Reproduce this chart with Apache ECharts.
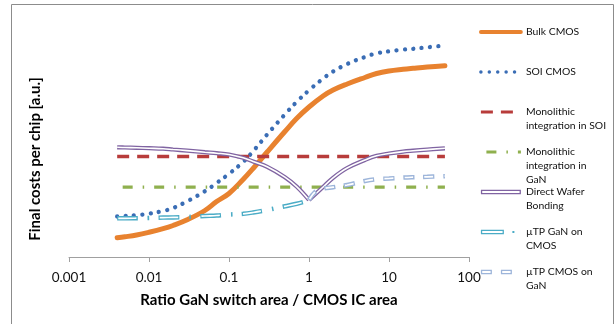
<!DOCTYPE html>
<html>
<head>
<meta charset="utf-8">
<script src="https://cdn.jsdelivr.net/npm/echarts@6/dist/echarts.min.js"></script>
<style>html,body{margin:0;padding:0;background:#fff;}#c{width:616px;height:324px;}</style>
</head>
<body>
<div id="c"></div>
<script>
// ---- data ----
const xTickLabels = ['0.001', '0.01', '0.1', '1', '10', '100'];
const xs = [0.004,0.005,0.007,0.01,0.015,0.02,0.03,0.05,0.07,0.1,0.15,0.2,0.3,0.5,0.7,1,1.5,2,3,5,7,10,15,20,30,50];
const bulkCmos = [19.2,20.2,22,24.7,28.3,31.5,37.2,46.5,55.5,63.5,77.5,88.5,105,125.5,138.5,150,161,167,173,179.5,183.5,186,187.7,188.7,190,191.3];
const soiCmos = [40.5,41,41.8,43.4,46,49,55.7,65.8,74,83.2,95,105.7,122.5,142.6,155,166.7,178.4,185.5,193,200,203.7,205.7,207.4,208.2,209.7,211.4];
const flatX = [0.004, 50];
const monoSoi = [100.5, 100.5];
const monoGan = [69.8, 69.8];
const dwbLeftX = [0.004,0.005,0.007,0.01,0.015,0.02,0.03,0.05,0.07,0.1,0.15,0.2,0.3,0.5,0.7,1];
const dwbLeft = [109.7,109.5,109.2,108.8,108.3,107.5,106.4,104.8,103.8,102.5,99.2,95.5,90.2,79.8,70.4,57];
const dwbRightX = [1,1.5,2,3,5,7,10,15,20,30,50];
const dwbRight = [57,70,79.2,89,97,101.2,103.5,105.4,106.3,107.4,108.7];
const utpGanX = [0.004,0.005,0.007,0.01,0.015,0.02,0.03,0.05,0.07,0.1,0.15,0.2,0.3,0.5,0.7,1];
const utpGanCmos = [38.7,38.7,38.8,39,39.4,39.6,40,41,41.5,42.5,43.2,44.5,47,50.7,53.2,56.5];
const utpCmosX = [1,1.2,1.5,2,3,5,7,10,15,20,30,50];
const utpCmosGan = [57,65.3,68.3,69.8,72,76,77.8,78.5,79.4,79.8,80.2,80.8];

const names = ['Bulk CMOS', 'SOI CMOS', 'Monolithic\nintegration in SOI', 'Monolithic\nintegration in\nGaN',
  'Direct Wafer\nBonding', 'µTP GaN on\nCMOS', 'µTP CMOS on\nGaN'];

const C = {
  bulk: '#E8822F', soi: '#3A6DB5', red: '#B83C3B', green: '#8FB04E',
  purple: '#8064A2', cyan: '#4BACC6', lblue: '#9DB5DA'
};

function pairs(x, y) { return x.map((v, i) => [v, y[i]]); }
function font(size, weight) { return { fontFamily: 'Lato', fontSize: size, fontWeight: weight || 'normal' }; }

const baseLine = { type: 'line', symbol: 'none', silent: true, smooth: 0.4, animation: false };

const series = [
  Object.assign({}, baseLine, { name: names[0], data: pairs(xs, bulkCmos),
    lineStyle: { color: C.bulk, width: 5, cap: 'round', join: 'round' }, itemStyle: { color: C.bulk } }),
  Object.assign({}, baseLine, { name: names[1], data: pairs(xs, soiCmos),
    lineStyle: { color: C.soi, width: 4.3, type: [0.01, 8.4], cap: 'round' }, itemStyle: { color: C.soi } }),
  Object.assign({}, baseLine, { name: names[2], data: pairs(flatX, monoSoi), smooth: false,
    lineStyle: { color: C.red, width: 3.3, type: [12, 8] }, itemStyle: { color: C.red } }),
  Object.assign({}, baseLine, { name: names[3], data: pairs(flatX, monoGan), smooth: false,
    lineStyle: { color: C.green, width: 3.2, type: [10, 10, 1.5, 10], dashOffset: 26 }, itemStyle: { color: C.green } }),
  // Direct wafer bonding: double line (outer + white inner), split at the cusp
  Object.assign({}, baseLine, { name: names[4], data: pairs(dwbLeftX, dwbLeft),
    lineStyle: { color: C.purple, width: 4.2 }, itemStyle: { color: C.purple } }),
  Object.assign({}, baseLine, { name: names[4], data: pairs(dwbRightX, dwbRight),
    lineStyle: { color: C.purple, width: 4.2 }, itemStyle: { color: C.purple } }),
  Object.assign({}, baseLine, { name: 'dwb-inner-l', data: pairs(dwbLeftX, dwbLeft),
    lineStyle: { color: '#fff', width: 1.6 } }),
  Object.assign({}, baseLine, { name: 'dwb-inner-r', data: pairs(dwbRightX, dwbRight),
    lineStyle: { color: '#fff', width: 1.6 } }),
  Object.assign({}, baseLine, { name: names[5], data: pairs(utpGanX, utpGanCmos),
    lineStyle: { color: C.cyan, width: 4.5, type: [20.5, 10, 1.5, 9.6] }, itemStyle: { color: C.cyan } }),
  Object.assign({}, baseLine, { name: 'utp1-inner', data: pairs(utpGanX, utpGanCmos),
    lineStyle: { color: '#fff', width: 1.7, type: [18.1, 23.5], dashOffset: -1.2 } }),
  Object.assign({}, baseLine, { name: names[6], data: pairs(utpCmosX, utpCmosGan),
    lineStyle: { color: C.lblue, width: 4.5, type: [11, 9] }, itemStyle: { color: C.lblue } }),
  Object.assign({}, baseLine, { name: 'utp2-inner', data: pairs(utpCmosX, utpCmosGan),
    lineStyle: { color: '#fff', width: 1.7, type: [8.6, 11.4], dashOffset: -1.2 } })
];

const hollowLong = 'path://M0,0H40V4.5H0Z M1.3,1.3V3.2H38.7V1.3Z';
const hollowDashDot = 'path://M0,0H23V4.5H0Z M1.3,1.3V3.2H21.7V1.3Z M31.5,1.3H33.5V3.2H31.5Z M40,0H40.01V4.5H40Z';
const hollowDash2 = 'path://M0,0H11V4.5H0Z M1.3,1.3V3.2H9.7V1.3Z M20,0H31V4.5H20Z M21.3,1.3V3.2H29.7V1.3Z M40,0H40.01V4.5H40Z';

const hideSym = { opacity: 0 };

const chart = echarts.init(document.getElementById('c'), null, { renderer: 'canvas' });
chart.setOption({
  animation: false,
  backgroundColor: '#fff',
  grid: { left: 69, right: 147, top: 17, bottom: 67 },
  xAxis: {
    type: 'log', logBase: 10, min: 0.001, max: 100,
    name: 'Ratio GaN switch area / CMOS IC area', nameLocation: 'middle', nameGap: 36,
    nameTextStyle: Object.assign(font(15, 'bold'), { color: '#000' }),
    axisLine: { lineStyle: { color: '#A0A0A0', width: 1 } },
    axisTick: { show: true, length: 5, lineStyle: { color: '#A0A0A0' } },
    minorTick: { show: false }, splitLine: { show: false },
    axisLabel: Object.assign(font(13.5), { color: '#111', margin: 14,
      formatter: v => xTickLabels[Math.round(Math.log10(v)) + 3] })
  },
  yAxis: { type: 'value', min: 0, max: 240, show: false, splitLine: { show: false } },
  legend: {
    orient: 'vertical', left: 479, top: -3, padding: 0,
    itemWidth: 40, itemHeight: 14, itemGap: -30, selectedMode: false,
    lineStyle: { width: 'inherit' },
    itemStyle: { borderWidth: 0 },
    textStyle: Object.assign(font(10.4), { color: '#111', lineHeight: 14 }),
    formatter: n => { const l = ['', ''].concat(n.split('\n')); while (l.length < 5) l.push(''); return l.join('\n'); },
    data: [
      { name: names[0], lineStyle: { width: 3.8 }, itemStyle: hideSym },
      { name: names[1], lineStyle: { width: 3.5 }, itemStyle: hideSym },
      { name: names[2], lineStyle: { width: 3 }, itemStyle: hideSym },
      { name: names[3], lineStyle: { width: 3 }, itemStyle: hideSym },
      { name: names[4], icon: hollowLong },
      { name: names[5], icon: hollowDashDot },
      { name: names[6], icon: hollowDash2 }
    ]
  },
  graphic: [
    { type: 'rect', silent: true, shape: { x: 11.5, y: 4.5, width: 602, height: 340 },
      style: { fill: 'none', stroke: '#8C8C8C', lineWidth: 1 } },
    { type: 'text', silent: true, x: 35, y: 159, rotation: Math.PI / 2,
      style: { text: 'Final costs per chip [a.u.]', fill: '#000', align: 'center', verticalAlign: 'middle', font: 'bold 15px Lato' } }
  ],
  series: series
});
</script>
</body>
</html>
